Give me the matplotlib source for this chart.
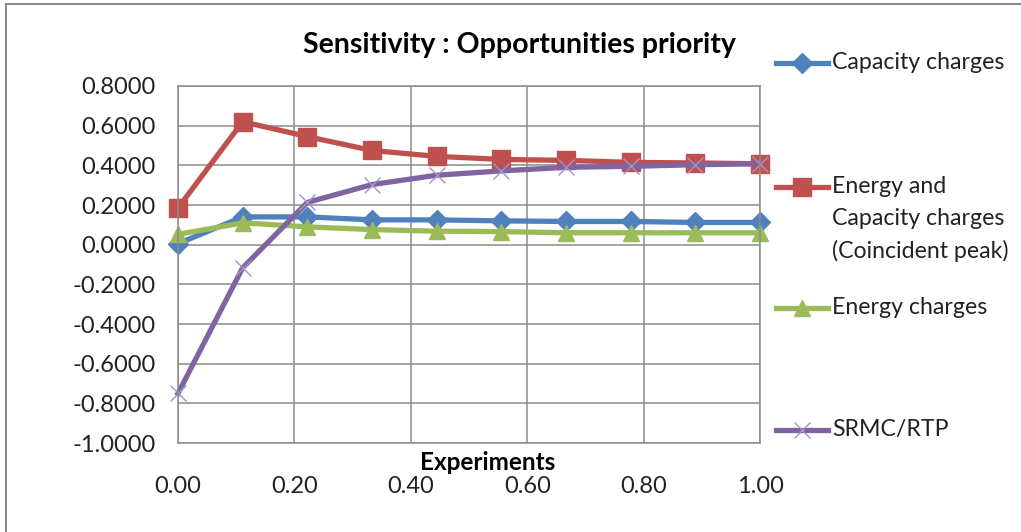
import matplotlib.pyplot as plt
from matplotlib.lines import Line2D

plt.rcParams['font.family'] = ['Lato', 'DejaVu Sans']

# share of experiments (x) and sensitivity of each tariff option
experiments = [0.0, 0.1111, 0.2222, 0.3333, 0.4444, 0.5556, 0.6667, 0.7778, 0.8889, 1.0]
capacity = [0.005, 0.140, 0.140, 0.125, 0.125, 0.120, 0.117, 0.117, 0.112, 0.112]
energy_capacity = [0.185, 0.620, 0.545, 0.475, 0.445, 0.430, 0.425, 0.415, 0.412, 0.408]
energy = [0.052, 0.110, 0.090, 0.076, 0.068, 0.066, 0.060, 0.060, 0.060, 0.060]
srmc_rtp = [-0.750, -0.117, 0.213, 0.303, 0.350, 0.372, 0.390, 0.395, 0.403, 0.408]

labels = ['Capacity charges',
          'Energy and\nCapacity charges\n(Coincident peak)',
          'Energy charges',
          'SRMC/RTP']
colors = ['#4F81BD', '#C0504D', '#9BBB59', '#8064A2']

W, H = 1021, 532
fig = plt.figure(figsize=(W / 100, H / 100), dpi=100)
ax = fig.add_axes([178 / W, 1 - 443 / H, (760 - 178) / W, (443 - 86) / H])

series = [capacity, energy_capacity, energy, srmc_rtp]
styles = [dict(marker='D', ms=10),
          dict(marker='s', ms=12.5),
          dict(marker='^', ms=11.5),
          dict(marker='x', ms=12, mew=1.0)]
edge = ['#4F81BD', '#C0504D', '#9BBB59', '#A493C6']
for vals, c, ec, st in zip(series, colors, edge, styles):
    ax.plot(experiments, vals, color=c, lw=3.8, mfc=c, mec=ec,
            clip_on=False, **st)

ax.set_xlim(0, 1)
ax.set_ylim(-1.0, 0.8)
xt = [0, 0.2, 0.4, 0.6, 0.8, 1.0]
ax.set_xticks(xt)
ax.set_xticklabels([f'{v:.2f}' for v in xt])
yt = [0.8 - 0.2 * i for i in range(10)]
ax.set_yticks(yt)
ax.set_yticklabels([f'{v:.4f}' for v in yt])
ax.tick_params(length=0, labelsize=17, colors='#222222')
ax.tick_params(axis='x', pad=24)
ax.tick_params(axis='y', pad=16)
ax.grid(True, color='#8C8C8C', lw=1.1)
ax.set_axisbelow(True)
for s in ax.spines.values():
    s.set_color('#8C8C8C')
    s.set_linewidth(1.1)

fig.text(519 / W, 1 - 45 / H, 'Sensitivity : Opportunities priority',
         ha='center', va='center', fontsize=20.5, fontweight='bold')
fig.text(488 / W, 1 - 463 / H, 'Experiments', ha='center', va='center',
         fontsize=17.5, fontweight='bold')

# legend drawn by hand, entries evenly spaced
legend_y = [63, 187, 308, 430]
for lab, c, ec, st, y in zip(labels, colors, edge, styles, legend_y):
    yf = 1 - y / H
    fig.add_artist(Line2D([776 / W, 828 / W], [yf, yf], color=c, lw=3.8,
                          transform=fig.transFigure))
    fig.add_artist(Line2D([802 / W], [yf], color=c, mfc=c, mec=ec, lw=0,
                          transform=fig.transFigure, **st))
    fig.text(832 / W, 1 - (y - 11) / H, lab, ha='left', va='top', fontsize=16.7,
             color='#222222', linespacing=1.62)

# outer chart border (top and left)
fig.add_artist(Line2D([6 / W, 6 / W], [0, 1 - 4 / H], color='#8C8C8C', lw=1.5,
                      transform=fig.transFigure))
fig.add_artist(Line2D([6 / W, 1], [1 - 4 / H, 1 - 4 / H], color='#8C8C8C', lw=1.5,
                      transform=fig.transFigure))

fig.savefig('out.png', dpi=100)
